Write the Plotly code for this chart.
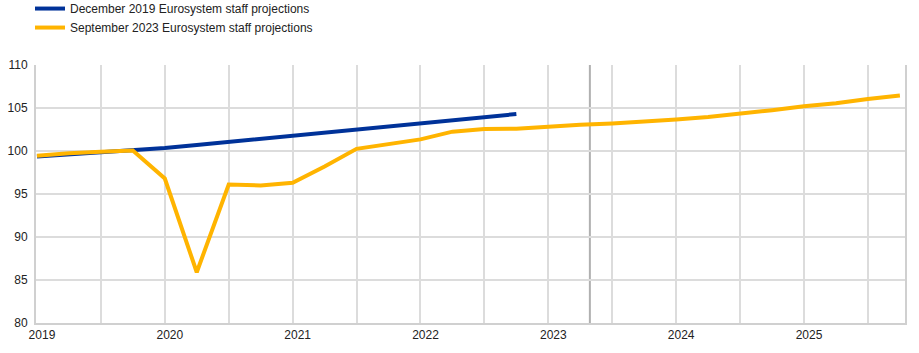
import plotly.graph_objects as go

# Quarterly periods 2019Q1 .. 2025Q4
quarters = [f"{y}Q{q}" for y in range(2019, 2026) for q in range(1, 5)]
year_labels = ["2019", "2020", "2021", "2022", "2023", "2024", "2025"]

dec2019 = [99.35, 99.6, 99.8, 100.0, 100.35, 100.7, 101.05, 101.4,
           101.75, 102.1, 102.45, 102.8, 103.15, 103.5, 103.9, 104.3]
sep2023 = [99.45, 99.75, 99.9, 100.05, 96.8, 85.9, 96.1, 96.0,
           96.3, 98.2, 100.25, 100.85, 101.35, 102.25, 102.55, 102.6,
           102.85, 103.05, 103.2, 103.4, 103.65, 103.95, 104.3, 104.75,
           105.2, 105.55, 106.05, 106.45]
cutoff_position = 17.3  # projection cut-off (between 2023Q2 and 2023Q3)

x_dec = list(range(len(dec2019)))
x_sep = list(range(len(sep2023)))

fig = go.Figure()
fig.add_trace(go.Scatter(x=x_dec, y=dec2019, mode="lines",
                         name="December 2019 Eurosystem staff projections",
                         line=dict(color="#003299", width=4)))
fig.add_trace(go.Scatter(x=x_sep, y=sep2023, mode="lines",
                         name="September 2023 Eurosystem staff projections",
                         line=dict(color="#FFB400", width=4)))

fig.add_shape(type="line", xref="x", yref="paper", x0=cutoff_position, x1=cutoff_position,
              y0=0, y1=1, line=dict(color="#b0b0b0", width=2), layer="below")

tickvals = list(range(0, len(quarters), 2))
ticktext = [quarters[i][:4] if quarters[i].endswith("Q1") else "" for i in tickvals]

font = dict(family="Liberation Sans, Arial, sans-serif", size=12, color="#222222")

fig.update_layout(
    width=919, height=353,
    margin=dict(l=36, r=14, t=65, b=30, autoexpand=False),
    plot_bgcolor="white", paper_bgcolor="white",
    font=font,
    showlegend=True,
    legend=dict(x=30 / 919, xref="container", y=1.275, yref="paper",
                xanchor="left", yanchor="top", orientation="v",
                bgcolor="rgba(0,0,0,0)", font=font, itemwidth=30,
                tracegroupgap=0),
    xaxis=dict(range=[-0.03, 27.16], tickvals=tickvals, ticktext=ticktext,
               showgrid=True, gridcolor="#dcdcdc", gridwidth=2,
               showline=True, linecolor="#d0d0d0", linewidth=2,
               ticks="", zeroline=False, ticklabelshift=5,
               tickfont=font),
    yaxis=dict(range=[80, 110], dtick=5, showgrid=True, gridcolor="#dcdcdc",
               gridwidth=2, showline=True, linecolor="#d0d0d0", linewidth=2,
               mirror=True, ticks="", zeroline=False, ticklabelstandoff=4,
               tickfont=font),
)

fig.write_html("out.html")
